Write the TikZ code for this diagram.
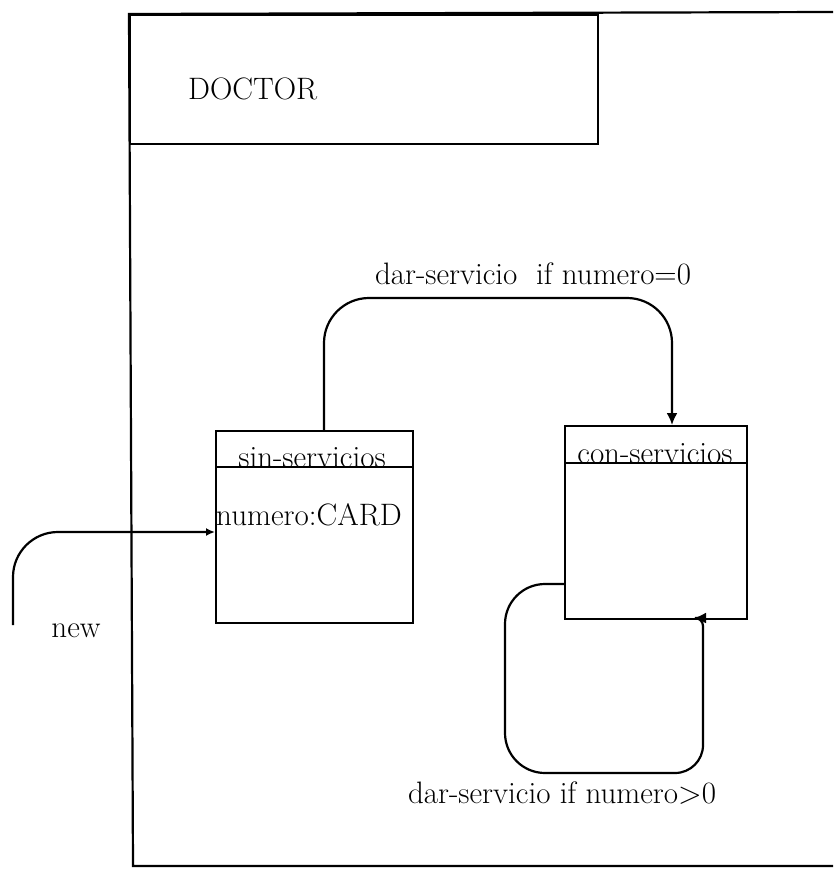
\documentclass[tikz,border=0pt]{standalone}
\usepackage{fontspec}
\usetikzlibrary{arrows.meta}
\begin{document}
\begin{tikzpicture}[x=1pt,y=-1pt,
  ln/.style={line width=2.2pt},
  boxst/.style={draw,line width=2.2pt,anchor=north west,inner sep=0pt},
  arr/.style={line width=2.2pt,-{Latex[length=12pt,width=11pt]}},
  sarr/.style={line width=2.2pt,-{Latex[length=9pt,width=8pt]}},
  lbl/.style={font=\fontsize{31}{37}\selectfont,inner sep=0pt}]
\useasboundingbox (0,0) rectangle (833,869);
% outer frame
\draw[ln] (833,12) -- (129,14) -- (133,866) -- (833,866);
% DOCTOR box
\node[boxst,minimum width=468pt,minimum height=129pt] (doctor) at (129,14) {};
\node[lbl,anchor=base west] (doctorlbl) at (188,100) {DOCTOR};
% states
\node[boxst,minimum width=197pt,minimum height=192pt] (sin) at (215,430) {};
\draw[ln] ([yshift=-37pt]sin.north west) -- ([yshift=-37pt]sin.north east);
\node[lbl,anchor=base] (sinlbl) at (312,467) {sin-servicios};
\node[lbl,anchor=base west] (sinattr) at (216,525) {numero:CARD};
\node[boxst,minimum width=182pt,minimum height=193pt] (con) at (564,425) {};
\draw[ln] ([yshift=-38pt]con.north west) -- ([yshift=-38pt]con.north east);
\node[lbl,anchor=base] (conlbl) at (655,463) {con-servicios};
% transitions
\draw[arr,rounded corners=45pt] ([xshift=109pt]sin.north west) |- (498,298) -| ([xshift=108pt]con.north west);
\node[lbl,anchor=base] (t1) at (533,284) {dar-servicio\ \ if numero=0};
\draw[arr] ([yshift=-159pt]con.north west) [rounded corners=40pt] -- (505,584) -- (505,773)
  [rounded corners=28pt] -- (703,773) [rounded corners=8pt] -- (703,618) -- (694,618);
\node[lbl,anchor=base] (t2) at (562,803) {dar-servicio if numero>0};
\coordinate (newstart) at (13,625);
\draw[sarr,rounded corners=45pt] (newstart) |- ([yshift=-102pt]sin.north west);
\node[lbl,anchor=base] (newlbl) at (76,637) {new};
\end{tikzpicture}
\end{document}
